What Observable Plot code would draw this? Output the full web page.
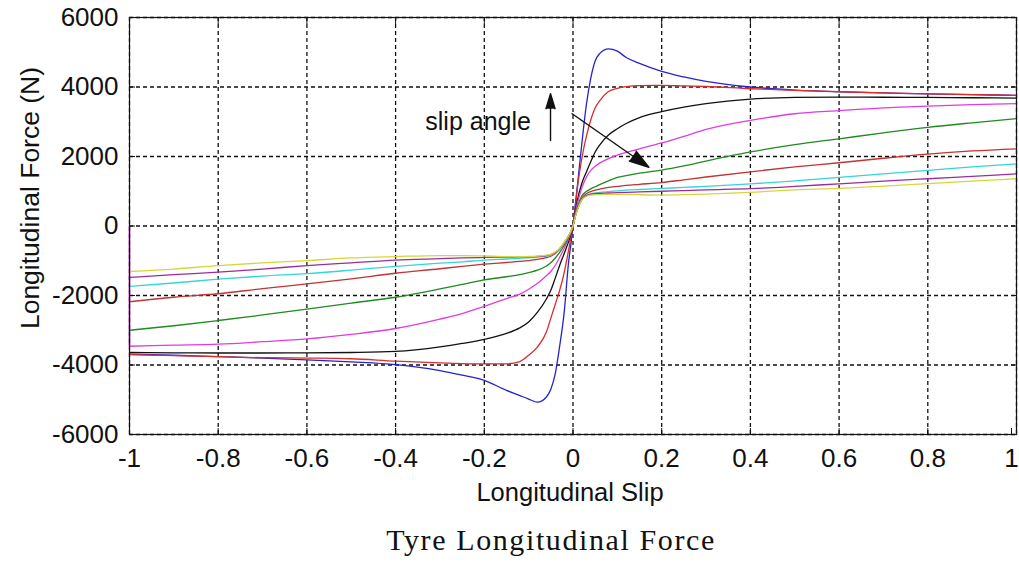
<!DOCTYPE html>
<html>
<head>
<meta charset="utf-8">
<script src="https://cdn.jsdelivr.net/npm/d3@7"></script>
<script src="https://cdn.jsdelivr.net/npm/@observablehq/plot@0.6"></script>
<style>
  html, body { margin: 0; padding: 0; background: #fff; }
  #wrap { position: relative; width: 1019px; height: 569px; overflow: hidden; }
  #caption { position: absolute; left: 0; width: 1102px; top: 525px; text-align: center;
    font-family: "Liberation Serif", "DejaVu Serif", serif; font-size: 30px; line-height: 30px;
    letter-spacing: 1.6px; color: #111; }
</style>
</head>
<body>
<div id="wrap"><div id="chart"></div><div id="caption">Tyre Longitudinal Force</div></div>
<script>
// Longitudinal slip sample points
const slip = [-1,-0.9,-0.8,-0.7,-0.6,-0.5,-0.4,-0.3,-0.25,-0.2,-0.15,-0.12,-0.1,-0.08,-0.06,-0.05,-0.04,-0.03,-0.02,-0.01,-0.005,
  0,
  0.005,0.01,0.02,0.03,0.04,0.05,0.06,0.08,0.1,0.12,0.15,0.2,0.25,0.3,0.4,0.5,0.6,0.7,0.8,0.9,1];

// Longitudinal force (N), one array per slip-angle curve
const blue = [-3690,-3720,-3760,-3800,-3850,-3910,-3990,-4160,-4290,-4440,-4730,-4880,-4980,-5070,-4920,-4700,-4250,-3450,-2500,-1050,-550,
  0,
  600,1170,2380,3480,4250,4750,4960,5100,5030,4850,4680,4450,4290,4160,4000,3910,3860,3830,3800,3780,3760];
const red = [-3700,-3730,-3760,-3790,-3800,-3820,-3890,-3940,-3960,-3970,-3965,-3900,-3720,-3480,-3050,-2650,-2250,-1850,-1350,-700,-350,
  0,
  500,1100,1950,2570,3050,3400,3600,3870,3960,4010,4040,4045,4030,4015,3950,3905,3865,3830,3800,3780,3760];
const black = [-3640,-3650,-3655,-3655,-3650,-3640,-3610,-3480,-3380,-3260,-3090,-2930,-2760,-2480,-2100,-1850,-1500,-1130,-800,-450,-250,
  0,
  400,750,1230,1550,1850,2130,2330,2620,2800,2950,3120,3290,3420,3520,3650,3700,3710,3705,3700,3690,3680];
const magenta = [-3460,-3430,-3400,-3330,-3250,-3120,-2950,-2680,-2520,-2310,-2090,-1960,-1820,-1650,-1430,-1310,-1130,-900,-650,-370,-200,
  0,
  350,650,1100,1400,1600,1720,1810,1940,2040,2120,2220,2390,2580,2780,3040,3230,3320,3400,3450,3490,3520];
const green = [-3000,-2870,-2720,-2560,-2390,-2220,-2050,-1810,-1680,-1550,-1460,-1400,-1340,-1270,-1150,-1060,-920,-760,-560,-320,-180,
  0,
  300,550,870,990,1070,1130,1190,1300,1400,1450,1520,1610,1730,1870,2130,2340,2510,2680,2840,2970,3090];
const red2 = [-2180,-2050,-1950,-1800,-1665,-1520,-1360,-1230,-1160,-1100,-1050,-1020,-995,-960,-910,-870,-790,-670,-500,-300,-170,
  0,
  280,500,800,930,990,1030,1060,1110,1140,1170,1200,1250,1330,1410,1560,1700,1820,1950,2070,2160,2220];
const cyan = [-1740,-1640,-1530,-1440,-1370,-1270,-1160,-1070,-1030,-980,-950,-930,-915,-900,-870,-840,-770,-660,-490,-290,-165,
  0,
  270,480,770,880,930,950,970,990,1010,1030,1050,1080,1110,1140,1210,1300,1400,1500,1600,1700,1790];
const purple = [-1480,-1400,-1330,-1240,-1140,-1060,-980,-940,-920,-905,-895,-890,-885,-875,-850,-825,-760,-650,-480,-285,-160,
  0,
  265,470,760,870,910,930,940,950,960,970,980,1000,1020,1040,1075,1140,1215,1290,1360,1430,1500];
const yellow = [-1310,-1240,-1140,-1060,-995,-920,-880,-850,-850,-860,-880,-880,-875,-865,-840,-815,-750,-640,-470,-280,-155,
  0,
  260,460,750,850,890,900,905,910,910,910,900,890,900,920,970,1040,1080,1150,1220,1290,1360];

// magenta curve starts with a vertical jump at slip = -1 from 0
const magentaEdge = { slip: -1, from: 0, to: magenta[0] };

const seriesNames = ["blue","red","black","magenta","green","red2","cyan","purple","yellow"];
const seriesValues = [blue, red, black, magenta, green, red2, cyan, purple, yellow];
const seriesColors = ["#2424cc","#dc2c2c","#111111","#e03ce0","#1f8a1f","#c43232","#36d4d4","#9b2d9b","#d6d63a"];

const xTicks = [-1,-0.8,-0.6,-0.4,-0.2,0,0.2,0.4,0.6,0.8,1];
const xTicksInner = xTicks.slice(0, -1);
const xTickLast = xTicks.slice(-1);
const yTicks = [-6000,-4000,-2000,0,2000,4000,6000];

// annotation
const noteText = ["slip angle"];
const noteX = [-0.333];
const noteY = [2980];
const arrowX1 = [-0.0507, -0.002];
const arrowY1 = [2460, 3230];
const arrowX2 = [-0.0507, 0.171];
const arrowY2 = [3805, 1690];

const rows = [];
seriesNames.forEach((name, k) => {
  seriesValues[k].forEach((v, i) => rows.push({ series: name, slip: slip[i], force: v }));
});
const arrows = arrowX1.map((x1, i) => ({ x1, y1: arrowY1[i], x2: arrowX2[i], y2: arrowY2[i] }));

const font = "'Liberation Sans', Arial, sans-serif";

const chart = Plot.plot({
  width: 1019,
  height: 515,
  marginLeft: 129,
  marginRight: 3,
  marginTop: 17,
  marginBottom: 81,
  style: { fontFamily: font, fontSize: "25px", color: "#111", background: "#fff", overflow: "visible" },
  x: { domain: [-1, 1] },
  y: { domain: [-6000, 6000] },
  color: { domain: seriesNames, range: seriesColors },
  marks: [
    Plot.ruleX(xTicks, { stroke: "#111", strokeWidth: 1.3, strokeDasharray: "4,3" }),
    Plot.ruleY(yTicks, { stroke: "#111", strokeWidth: 1.3, strokeDasharray: "4,3" }),
    Plot.ruleX([magentaEdge], { x: "slip", y1: "from", y2: "to", stroke: seriesColors[3], strokeWidth: 1.6 }),
    Plot.line(rows, { x: "slip", y: "force", z: "series", stroke: "series", strokeWidth: 1.3, curve: "monotone-x" }),
    Plot.text(noteText, { x: noteX, y: noteY, text: d => d, textAnchor: "start", fontSize: 25, fill: "#111" }),
    Plot.arrow(arrows, { x1: "x1", y1: "y1", x2: "x2", y2: "y2", stroke: "#111", fill: "#111", strokeWidth: 1.4, headLength: 22, headAngle: 34 }),
    Plot.frame({ stroke: "#111", strokeWidth: 1.2 }),
    Plot.axisX(xTicksInner, { anchor: "bottom", tickSize: -6, tickPadding: 20, fontSize: 26, tickFormat: d => String(d), label: null }),
    Plot.axisX(xTickLast, { anchor: "bottom", tickSize: -6, tickPadding: 20, fontSize: 26, dx: -5, tickFormat: d => String(d), label: null }),
    Plot.axisX(xTicks, { anchor: "top", tickSize: -6, tickFormat: () => "", label: null }),
    Plot.axisY(yTicks, { anchor: "left", tickSize: -6, tickPadding: 17, fontSize: 26, tickFormat: d => String(d), label: null }),
    Plot.axisY(yTicks, { anchor: "right", tickSize: -6, tickFormat: () => "", label: null }),
    Plot.text(["Longitudinal Slip"], { frameAnchor: "bottom", dx: -3, dy: 58, lineAnchor: "middle", textAnchor: "middle", fontSize: 25.5, fill: "#111" }),
    Plot.text(["Longitudinal Force (N)"], { frameAnchor: "left", dx: -99, dy: -28, rotate: -90, textAnchor: "middle", lineAnchor: "middle", fontSize: 26.5, fill: "#111" })
  ]
});
document.getElementById("chart").appendChild(chart);
</script>
</body>
</html>
